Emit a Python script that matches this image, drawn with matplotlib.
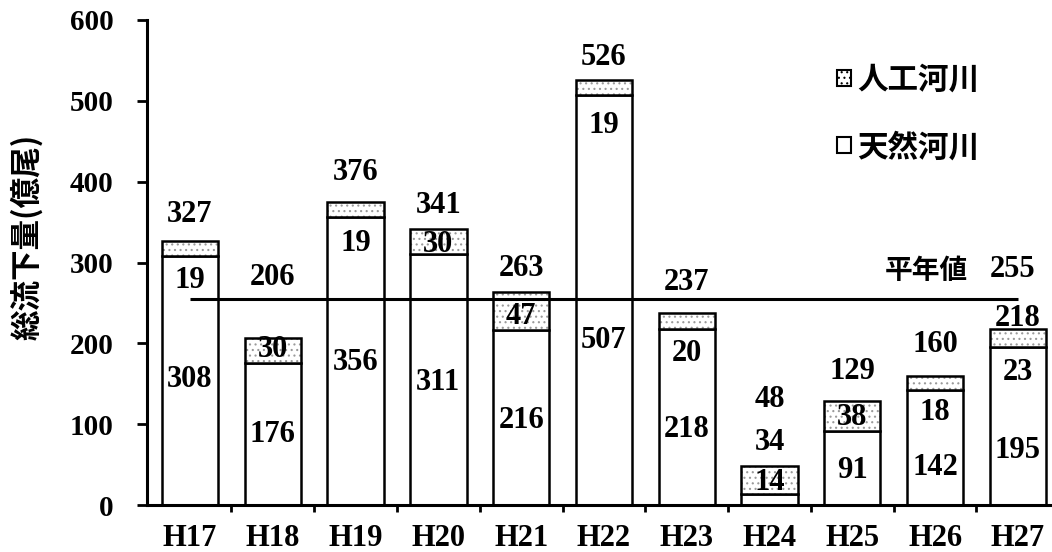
import matplotlib.pyplot as plt
import matplotlib.patches as mpatches
import numpy as np

years = ['H17', 'H18', 'H19', 'H20', 'H21', 'H22', 'H23', 'H24', 'H25', 'H26', 'H27']
tennen = [308, 176, 356, 311, 216, 507, 218, 14, 91, 142, 195]   # bottom (white)
jinko = [19, 30, 19, 30, 47, 19, 20, 34, 38, 18, 23]              # top (dotted)
totals = [327, 206, 376, 341, 263, 526, 237, 48, 129, 160, 218]
heinen = 255

# label heights (layout only)
tot_y = [359, 281, 411, 371, 293, 553, 275, 130, 165, 198, 231]
top_y = [278, 192, 324, 322, 233, 470, 188, 77, 108, 115, 164]
bot_y = [155, 87, 176, 152, 105, 204, 93, 28, 43, 46, 68]

plt.rcParams['hatch.linewidth'] = 0.8
plt.rcParams['font.family'] = 'Liberation Serif'
plt.rcParams['font.weight'] = 'bold'
num_font = dict(family='Liberation Serif', weight='bold', size=22)
jp_font = dict(family=['Noto Sans CJK JP', 'DejaVu Sans'], weight='bold', size=20)

fig = plt.figure(figsize=(10.52, 5.52), dpi=100)
ax = fig.add_axes([147/1052, 47/552, 904/1052, 485/552])
x = np.arange(len(years))
w = 0.68

ax.bar(x, tennen, w, color='white', edgecolor='black', linewidth=1.8, zorder=2)
# dotted fill for the top part, then the black outline on top of it
ax.bar(x, jinko, w, bottom=tennen, color='white', edgecolor='#9a9a9a', linewidth=0,
       hatch='...', zorder=2)
ax.bar(x, jinko, w, bottom=tennen, fill=False, edgecolor='black', linewidth=1.8, zorder=2)
ax.hlines(heinen, 0, 10, color='black', linewidth=2.2, zorder=3)

for i in range(len(years)):
    ax.text(x[i], tot_y[i], str(totals[i]), ha='center', va='center', zorder=4, **num_font)
    ax.text(x[i], top_y[i], str(jinko[i]), ha='center', va='center', zorder=4, **num_font)
    ax.text(x[i], bot_y[i], str(tennen[i]), ha='center', va='center', zorder=4, **num_font)

ax.text(8.9, 290, '平年値', ha='center', va='center', **jp_font)
ax.text(9.93, 291, str(heinen), ha='center', va='center', **num_font)

ax.set_xlim(-0.52, 10.40)
ax.set_ylim(0, 600)
ax.set_yticks(range(0, 601, 100))
ax.set_xticks(x)
ax.set_xticks(np.arange(0.5, 10, 1), minor=True)
ax.set_xticklabels(years)
ax.tick_params(axis='y', direction='out', length=7, width=2, pad=17, labelsize=21)
ax.tick_params(axis='x', which='major', length=0, pad=14, labelsize=22)
ax.tick_params(axis='x', which='minor', direction='out', length=5, width=2)

for s in ['top', 'right']:
    ax.spines[s].set_visible(False)
ax.spines['left'].set_linewidth(2.2)
ax.spines['bottom'].set_linewidth(2.2)

ax.set_ylabel('総流下量(億尾)', family=['Noto Sans CJK JP', 'DejaVu Sans'], weight='bold',
              size=22, va='center')
ax.yaxis.set_label_coords(-0.133, 0.553)

handles = [mpatches.Patch(facecolor='white', edgecolor='black', hatch='...', linewidth=1.5),
           mpatches.Patch(facecolor='white', edgecolor='black', linewidth=1.5)]
leg = fig.legend(handles, ['人工河川', '天然河川'], loc='upper left',
                 bbox_to_anchor=(837/1052, 1 - 64/552), frameon=False,
                 handlelength=0.45, handleheight=0.45, handletextpad=0.2,
                 labelspacing=1.15, borderpad=0, borderaxespad=0,
                 prop=dict(family=['Noto Sans CJK JP', 'DejaVu Sans'], weight='bold', size=22))

fig.savefig('out.png', dpi=100)
